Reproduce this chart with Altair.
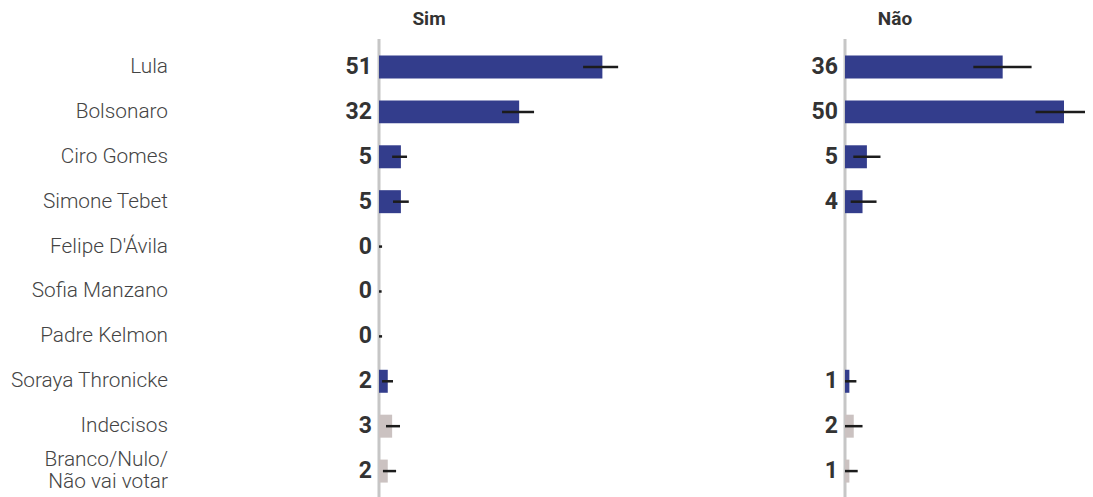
import altair as alt
import pandas as pd

keys = ["Lula", "Bolsonaro", "Ciro Gomes", "Simone Tebet", "Felipe D'Ávila",
        "Sofia Manzano", "Padre Kelmon", "Soraya Thronicke", "Indecisos", "Branco"]
labels = ["Lula", "Bolsonaro", "Ciro Gomes", "Simone Tebet", "Felipe D'Ávila",
          "Sofia Manzano", "Padre Kelmon", "Soraya Thronicke", "Indecisos",
          "Branco/Nulo/\nNão vai votar"]
groups = ["cand"] * 8 + ["outros"] * 2

sim_values = [51, 32, 5, 5, 0, 0, 0, 2, 3, 2]
sim_low = [46.6, 28.1, 3.0, 3.2, 0, 0, 0, 0.7, 1.6, 0.9]
sim_high = [54.6, 35.4, 6.4, 6.8, 0.7, 0.6, 0.7, 3.2, 4.8, 3.9]

nao_values = [36, 50, 5, 4, None, None, None, 1, 2, 1]
nao_low = [29.3, 43.5, 1.9, 1.3, None, None, None, 0, 0, 0]
nao_high = [42.6, 56.7, 8.1, 7.2, None, None, None, 2.6, 4.0, 2.9]

panel_titles = ["Sim", "Não"]

NAVY = "#333d8c"
GRAY = "#cbc2c1"
K = 4.38  # px per percentage point
H = 489

yscale = alt.Scale(type="band", domain=keys, paddingInner=0.488,
                   paddingOuter=0.6894, align=0.767)


def ych():
    return alt.Y("key:N", scale=yscale, axis=None, sort=keys)


def panel(values, low, high, title, width, right_px):
    df = pd.DataFrame({"key": keys, "v": values, "lo": low, "hi": high, "g": groups})
    df = df.dropna().reset_index(drop=True)
    xs = alt.Scale(domain=[-206 / K, right_px / K], nice=False, zero=False)
    base = alt.Chart(df)
    zero = alt.Chart(pd.DataFrame({"z": [0]})).mark_rule(
        color="#c6c6c6", strokeWidth=3
    ).encode(
        x=alt.X("z:Q", scale=xs, axis=None),
        y=alt.value(31), y2=alt.value(H),
    )
    bars = base.mark_bar(clip=True).encode(
        x=alt.X("v:Q", scale=xs, axis=None),
        x2=alt.datum(0),
        y=ych(),
        color=alt.Color("g:N", scale=alt.Scale(domain=["cand", "outros"], range=[NAVY, GRAY]), legend=None),
    )
    err = base.mark_rule(color="#1c1c1c", strokeWidth=2.5, clip=True).encode(
        x=alt.X("lo:Q", scale=xs, axis=None),
        x2="hi:Q",
        y=ych(),
    )
    txt = base.transform_calculate(zero="0").mark_text(
        align="right", baseline="middle", dx=-7, fontSize=23, fontWeight="bold",
        color="#333333", font="Roboto"
    ).encode(
        x=alt.X("zero:Q", scale=xs, axis=None),
        y=ych(),
        text=alt.Text("v:Q", format="d"),
    )
    ttl = alt.Chart(pd.DataFrame({"t": [title]})).mark_text(
        align="center", baseline="middle", fontSize=19, fontWeight="bold",
        color="#333333", font="Roboto"
    ).encode(x=alt.value(256), y=alt.value(11), text="t:N")
    return alt.layer(zero, bars, err, txt, ttl).properties(width=width, height=H)


lab_df = pd.DataFrame({"key": keys, "label": labels})
lab_df["multi"] = lab_df["label"].str.contains("\n")
lab_style = dict(align="right", baseline="middle", fontSize=20.8, fontWeight=300,
                 color="#444444", font="Roboto", lineBreak="\n", lineHeight=22)
single = alt.Chart(lab_df).transform_filter("!datum.multi").mark_text(**lab_style).encode(
    x=alt.value(160), y=ych(), text="label:N")
multi = alt.Chart(lab_df).transform_filter("datum.multi").mark_text(dy=-11, **lab_style).encode(
    x=alt.value(160), y=ych(), text="label:N")
label_panel = alt.layer(single, multi).properties(width=165, height=H)

sim = panel(sim_values, sim_low, sim_high, panel_titles[0], 466, 260)
nao = panel(nao_values, nao_low, nao_high, panel_titles[1], 446, 240)

chart = alt.hconcat(label_panel, sim, nao, spacing=0).properties(
    padding=0
).configure_view(stroke=None)

chart.save("out.html", embed_options={"renderer": "svg", "actions": False})
